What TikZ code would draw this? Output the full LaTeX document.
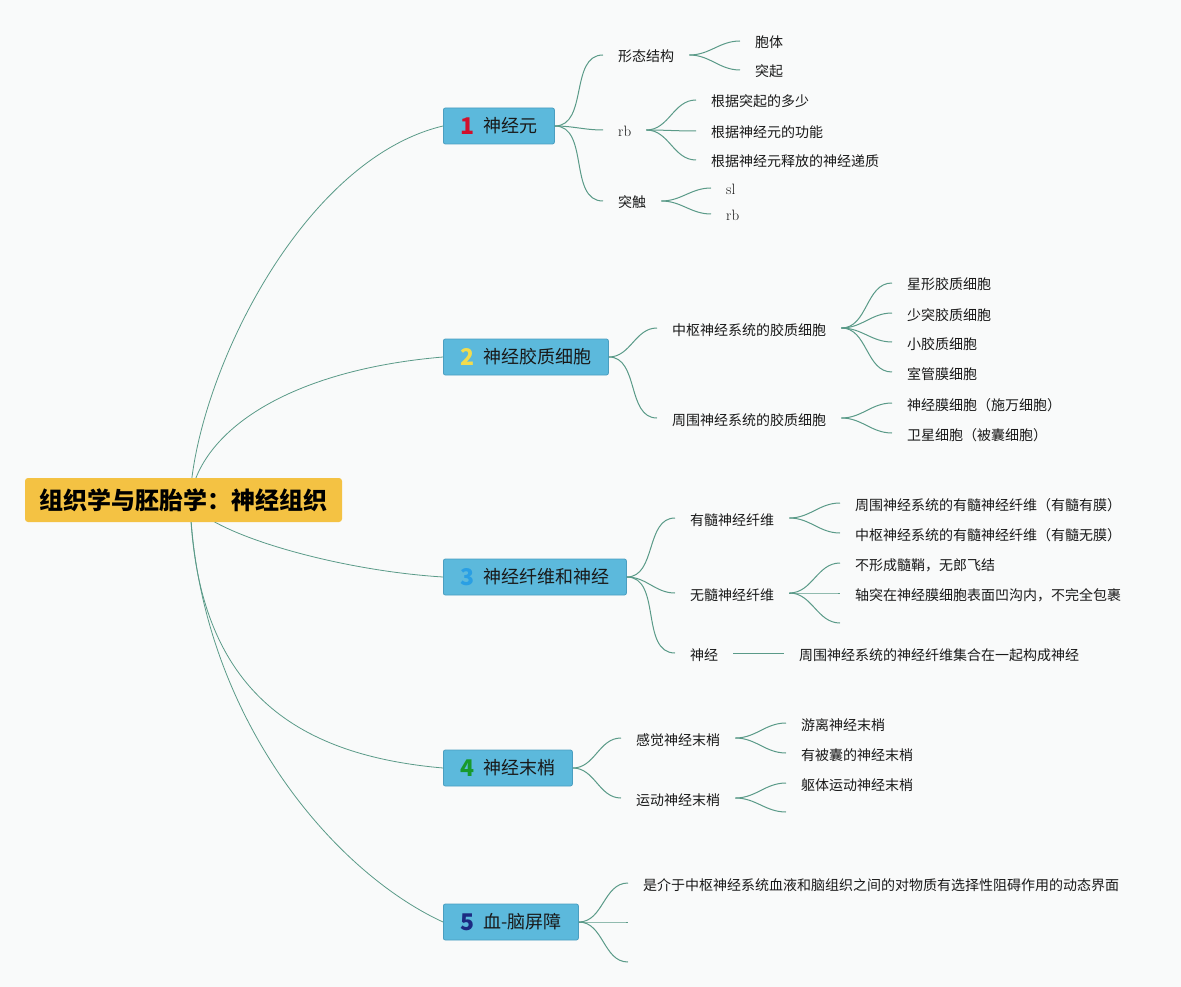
\documentclass[tikz,border=0pt]{standalone}
\usepackage{fontspec}
\newfontfamily\cjk{Noto Sans CJK SC}
\usepackage{tikz}
\definecolor{paper}{HTML}{F9FAFA}
\definecolor{linkgreen}{HTML}{5A9A88}
\definecolor{topicblue}{HTML}{5CB9DC}
\definecolor{topicedge}{HTML}{4A9EC0}
\definecolor{rootyellow}{HTML}{F4C243}
\definecolor{numred}{HTML}{D2102C}
\definecolor{numyellow}{HTML}{F2DC4E}
\definecolor{numblue}{HTML}{2A9FE4}
\definecolor{numgreen}{HTML}{189A2C}
\definecolor{numnavy}{HTML}{1C2A82}
\newcommand{\topicnum}[2]{\raisebox{-2pt}{\color{#1}\fontsize{23}{23}\selectfont\bfseries #2}\hspace{9pt}}
\newcommand{\lat}[1]{{\rmfamily\fontsize{15}{16}\selectfont #1}}

\begin{document}
\begin{tikzpicture}[x=1pt,y=-1pt,
  link/.style={draw=linkgreen,line width=0.8pt},
  sublink/.style={draw=linkgreen,line width=1pt},
  rootbox/.style={fill=rootyellow,rounded corners=3pt,minimum width=317pt,minimum height=44pt,
    inner sep=0pt,font=\cjk\bfseries\fontsize{24}{28}\selectfont,text=black},
  topic/.style={anchor=west,fill=topicblue,draw=topicedge,line width=0.8pt,rounded corners=2pt,
    minimum height=36pt,inner sep=0pt,text height=14pt,text depth=1pt,
    font=\cjk\fontsize{18}{20}\selectfont,text=black!90},
  leaf/.style={anchor=west,inner xsep=15pt,inner ysep=0pt,text height=15pt,text depth=1pt,
    font=\cjk\fontsize{14}{16}\selectfont,text=black!90}]
  \fill[paper] (0,0) rectangle (1181,987);
  \useasboundingbox (0,0) rectangle (1181,987);

  % main topics
  \node[topic,minimum width=111pt] (neuron) at (443,126) {\topicnum{numred}{1}神经元};
  \node[topic,minimum width=165pt] (glia) at (443,357) {\topicnum{numyellow}{2}神经胶质细胞};
  \node[topic,minimum width=183pt] (fiber) at (443,577) {\topicnum{numblue}{3}神经纤维和神经};
  \node[topic,minimum width=129pt] (ending) at (443,768) {\topicnum{numgreen}{4}神经末梢};
  \node[topic,minimum width=135pt] (bbb) at (443,922) {\topicnum{numnavy}{5}血-脑屏障};

  \coordinate (hub) at (190,500);
  \draw[link] (hub) .. controls (195,380) and (300,160) .. (neuron.west);
  \draw[link] (hub) .. controls (200,430) and (290,370) .. (glia.west);
  \draw[link] (hub) .. controls (200,530) and (330,570) .. (fiber.west);
  \draw[link] (hub) .. controls (195,690) and (295,755) .. (ending.west);
  \draw[link] (hub) .. controls (197,710) and (330,870) .. (bbb.west);

  \node[rootbox] (root) at (183.5,500) {组织学与胚胎学：神经组织};

  % 1 neuron
  \node[leaf] (shape) at (603,55) {形态结构};
  \node[leaf] (cls) at (603,130) {\lat{rb}};
  \node[leaf] (syn) at (603,201) {突触};
  \node[leaf] (body) at (740,41) {胞体};
  \node[leaf] (proc) at (740,70) {突起};
  \node[leaf] (cls1) at (696,100) {根据突起的多少};
  \node[leaf] (cls2) at (696,131) {根据神经元的功能};
  \node[leaf] (cls3) at (696,160) {根据神经元释放的神经递质};
  \node[leaf] (syn1) at (711,188) {\lat{sl}};
  \node[leaf] (syn2) at (711,214) {\lat{rb}};
  \foreach \c in {shape,cls,syn} \draw[sublink] (neuron.east) to[out=0,in=180] (\c.west);
  \foreach \c in {body,proc} \draw[sublink] (shape.east) to[out=0,in=180] (\c.west);
  \foreach \c in {cls1,cls2,cls3} \draw[sublink] (cls.east) to[out=0,in=180] (\c.west);
  \foreach \c in {syn1,syn2} \draw[sublink] (syn.east) to[out=0,in=180] (\c.west);

  % 2 glia
  \node[leaf] (cns) at (657,328) {中枢神经系统的胶质细胞};
  \node[leaf] (pns) at (657,418) {周围神经系统的胶质细胞};
  \node[leaf] (astro) at (892,283) {星形胶质细胞};
  \node[leaf] (oligo) at (892,313) {少突胶质细胞};
  \node[leaf] (micro) at (892,342) {小胶质细胞};
  \node[leaf] (epend) at (892,372) {室管膜细胞};
  \node[leaf] (schwann) at (892,403) {神经膜细胞（施万细胞）};
  \node[leaf] (sat) at (892,433) {卫星细胞（被囊细胞）};
  \foreach \c in {cns,pns} \draw[sublink] (glia.east) to[out=0,in=180] (\c.west);
  \foreach \c in {astro,oligo,micro,epend} \draw[sublink] (cns.east) to[out=0,in=180] (\c.west);
  \foreach \c in {schwann,sat} \draw[sublink] (pns.east) to[out=0,in=180] (\c.west);

  % 3 fibres and nerves
  \node[leaf] (myel) at (675,518) {有髓神经纤维};
  \node[leaf] (unmyel) at (675,593) {无髓神经纤维};
  \node[leaf] (nerve) at (675,653) {神经};
  \node[leaf] (myel1) at (840,503) {周围神经系统的有髓神经纤维（有髓有膜）};
  \node[leaf] (myel2) at (840,533) {中枢神经系统的有髓神经纤维（有髓无膜）};
  \node[leaf] (unmyel1) at (840,563) {不形成髓鞘，无郎飞结};
  \node[leaf] (unmyel2) at (840,593) {轴突在神经膜细胞表面凹沟内，不完全包裹};
  \coordinate (unmyel3) at (840,623);
  \node[leaf] (nerve1) at (784,653) {周围神经系统的神经纤维集合在一起构成神经};
  \foreach \c in {myel,unmyel,nerve} \draw[sublink] (fiber.east) to[out=0,in=180] (\c.west);
  \foreach \c in {myel1,myel2} \draw[sublink] (myel.east) to[out=0,in=180] (\c.west);
  \foreach \c in {unmyel1,unmyel2} \draw[sublink] (unmyel.east) to[out=0,in=180] (\c.west);
  \draw[sublink] (unmyel.east) to[out=0,in=180] (unmyel3);
  \draw[sublink] (nerve.east) -- (nerve1.west);

  % 4 nerve endings
  \node[leaf] (sens) at (621,738) {感觉神经末梢};
  \node[leaf] (motor) at (621,798) {运动神经末梢};
  \node[leaf] (free) at (786,723) {游离神经末梢};
  \node[leaf] (caps) at (786,753) {有被囊的神经末梢};
  \node[leaf] (soma) at (786,783) {躯体运动神经末梢};
  \coordinate (motor2) at (786,812);
  \foreach \c in {sens,motor} \draw[sublink] (ending.east) to[out=0,in=180] (\c.west);
  \foreach \c in {free,caps} \draw[sublink] (sens.east) to[out=0,in=180] (\c.west);
  \draw[sublink] (motor.east) to[out=0,in=180] (soma.west);
  \draw[sublink] (motor.east) to[out=0,in=180] (motor2);

  % 5 blood-brain barrier
  \node[leaf] (bbbdef) at (628,883) {是介于中枢神经系统血液和脑组织之间的对物质有选择性阻碍作用的动态界面};
  \coordinate (bbb2) at (628,922);
  \coordinate (bbb3) at (628,962);
  \draw[sublink] (bbb.east) to[out=0,in=180] (bbbdef.west);
  \draw[sublink] (bbb.east) to[out=0,in=180] (bbb2);
  \draw[sublink] (bbb.east) to[out=0,in=180] (bbb3);
\end{tikzpicture}
\end{document}
